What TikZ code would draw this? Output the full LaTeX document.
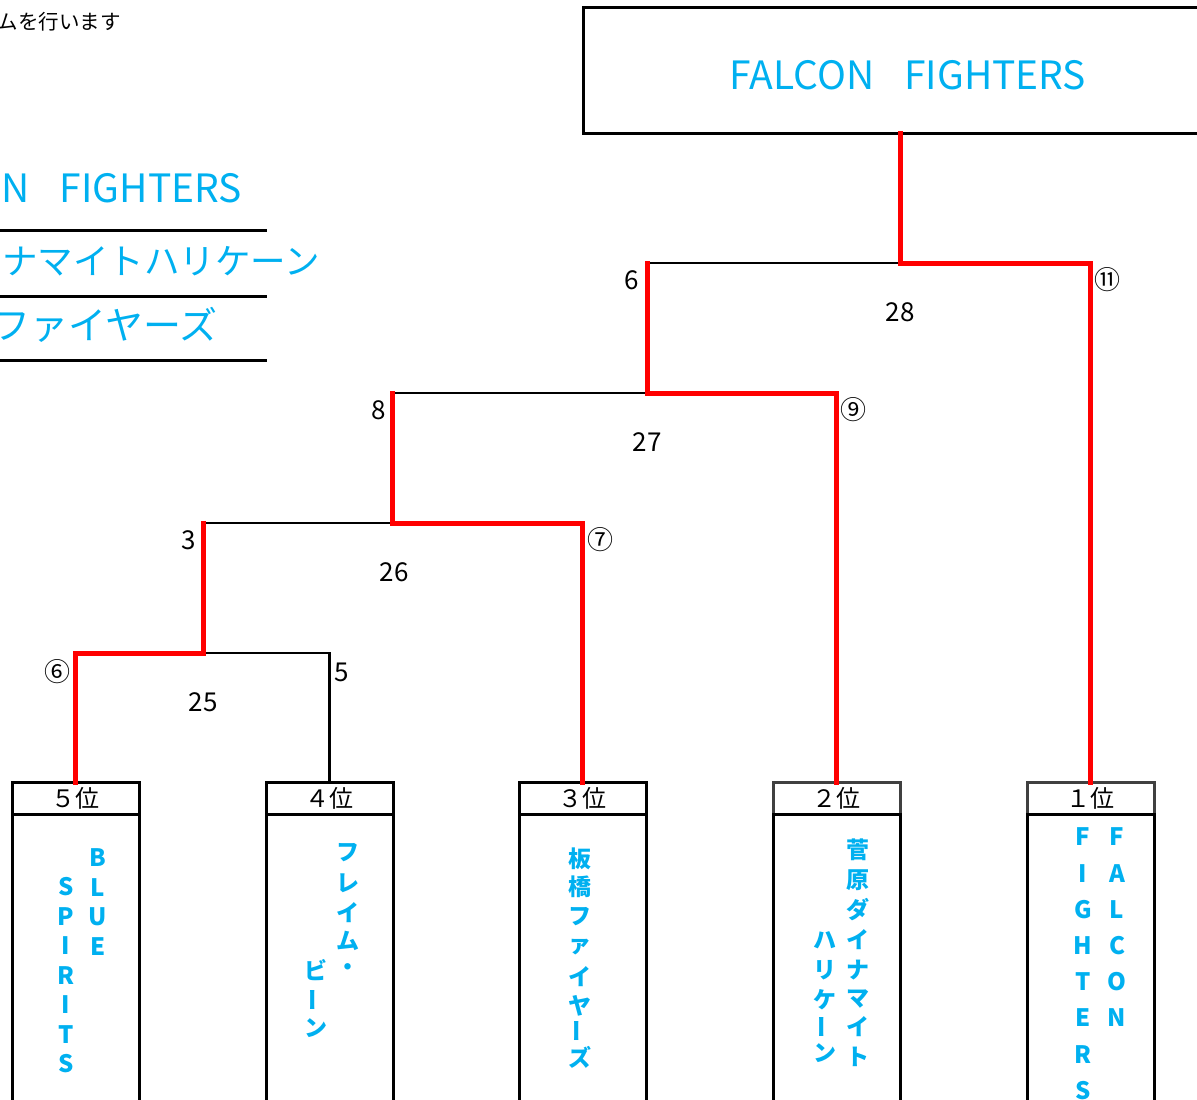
\documentclass[tikz,border=0pt]{standalone}
\usepackage{fontspec}
\setmainfont{Noto Sans CJK JP}
\definecolor{teamcyan}{RGB}{0,176,240}
\definecolor{hdrgray}{RGB}{64,64,64}
\tikzset{
  lose/.style={line width=2.5pt, black},
  win/.style={line width=5pt, red, line cap=rect},
  boxline/.style={draw, line width=3pt, inner sep=0pt, outer sep=0pt},
  hdr/.style={boxline, minimum width=127pt, minimum height=32pt, anchor=north west, font=\fontsize{24}{24}\selectfont},
  body/.style={boxline, minimum width=127pt, minimum height=300pt, anchor=north},
  score/.style={inner sep=0pt, font=\fontsize{26}{26}\selectfont},
  circ/.style={inner sep=0pt, font=\fontsize{26}{26}\selectfont},
  bigteam/.style={inner sep=0pt, text=teamcyan, font=\fontsize{39}{39}\selectfont},
  sideteam/.style={inner sep=0pt, text=teamcyan, font=\fontsize{38}{38}\selectfont},
  vl/.style={inner sep=0pt, text=teamcyan, font=\bfseries\fontsize{24}{24}\selectfont},
  vj/.style={inner sep=0pt, text=teamcyan, font=\bfseries\fontsize{23}{23}\selectfont},
  sideline/.style={line width=3pt},
}
\begin{document}
\begin{tikzpicture}[x=1pt, y=-1pt]
\useasboundingbox (0,0) rectangle (1197,1100);
\clip (0,0) rectangle (1197,1100);

% top-left note
\node[inner sep=0pt, anchor=east, font=\fontsize{20.5}{20.5}\selectfont] (note) at (121,22) {ムを行います};

% left summary
\node[bigteam, anchor=base east] (s1) at (242,202) {FALCON\hspace{30pt}FIGHTERS};
\node[sideteam, anchor=east, font=\fontsize{35.5}{35.5}\selectfont] (s2) at (320,261) {菅原ダイナマイトハリケーン};
\node[sideteam, anchor=east] (s3) at (218,325) {板橋ファイヤーズ};
\coordinate (sl1a) at (0,230); \coordinate (sl1b) at (267,230);
\coordinate (sl2a) at (0,296); \coordinate (sl2b) at (267,296);
\coordinate (sl3a) at (0,360); \coordinate (sl3b) at (267,360);
\draw[sideline] (sl1a) -- (sl1b);
\draw[sideline] (sl2a) -- (sl2b);
\draw[sideline] (sl3a) -- (sl3b);

% champion box
\node[boxline, minimum width=640pt, minimum height=126pt, anchor=north west] (top) at (583,7) {};
\node[bigteam] (champ) at (908,75) {FALCON\hspace{30pt}FIGHTERS};

% headers
\node[hdr] (h1) at (12,782) {５位};
\node[hdr] (h2) at (266,782) {４位};
\node[hdr] (h3) at (519,782) {３位};
\node[hdr, draw=hdrgray] (h4) at (773,782) {２位};
\node[hdr, draw=hdrgray] (h5) at (1027,782) {１位};
\node[body] (b1) at (h1.south) {};
\node[body] (b2) at (h2.south) {};
\node[body] (b3) at (h3.south) {};
\node[body] (b4) at (h4.south) {};
\node[body] (b5) at (h5.south) {};

% bracket junctions
\coordinate (j4) at (900,263);
\coordinate (l4) at (647,263);
\coordinate (j3) at (647,393);
\coordinate (l3) at (392,393);
\coordinate (j2) at (392,523);
\coordinate (l2) at (203,523);
\coordinate (j1) at (203,653);

% losing lines
\draw[lose] (l4) -- (j4);
\draw[lose] (l3) -- (j3);
\draw[lose] (l2) -- (j2);
\draw[lose] (j1) -| (h2.north);

% winning path
\draw[win] (top.south -| j4) -- (j4) -| (h5.north);
\draw[win] (l4) -- (j3) -| (h4.north);
\draw[win] (l3) -- (j2) -| (h3.north);
\draw[win] (l2) -- (j1) -| (h1.north);

% scores
\node[score] (s6) at (632,280) {6};
\node[score] (s28) at (900,312) {28};
\node[circ] (c11) at (1107,280) {⑪};
\node[score] (s8) at (379,410) {8};
\node[score] (s27) at (647,442) {27};
\node[circ] (c9) at (853,410) {⑨};
\node[score] (s3) at (189,540) {3};
\node[score] (s26) at (394,572) {26};
\node[circ] (c7) at (600,540) {⑦};
\node[circ] (c6) at (57,672) {⑥};
\node[score] (s25) at (203,702) {25};
\node[score] (s5) at (342,672) {5};

% box 1: BLUE SPIRITS
\foreach \c [count=\i] in {B,L,U,E}
  \node[vl] (bl\i) at (98,{858+29.5*(\i-1)}) {\c};
\foreach \c [count=\i] in {S,P,I,R,I,T,S}
  \node[vl] (sp\i) at (66,{887+29.5*(\i-1)}) {\c};

% box 2: フレイム・ビーン
\foreach \c/\y [count=\i] in {フ/853,レ/883,イ/913,ム/941,・/970}
  \node[vj] (fl\i) at (348,\y) {\c};
\node[vj] (bi1) at (316,970) {ビ};
\node[vj, rotate=90] (bi2) at (316,1000) {ー};
\node[vj] (bi3) at (316,1028) {ン};

% box 3: 板橋ファイヤーズ
\foreach \c/\y [count=\i] in {板/859,橋/887,フ/917,ァ/947,イ/977,ヤ/1006}
  \node[vj] (it\i) at (580,\y) {\c};
\node[vj, rotate=90] (it7) at (580,1031) {ー};
\node[vj] (it8) at (580,1057) {ズ};

% box 4: 菅原ダイナマイトハリケーン
\foreach \c/\y [count=\i] in {菅/850,原/880,ダ/910,イ/940,ナ/970,マ/999,イ/1027,ト/1057}
  \node[vj] (sg\i) at (858,\y) {\c};
\foreach \c/\y [count=\i] in {ハ/940,リ/970,ケ/1000}
  \node[vj] (hr\i) at (825,\y) {\c};
\node[vj, rotate=90] (hr4) at (825,1027) {ー};
\node[vj] (hr5) at (825,1053) {ン};

% box 5: FALCON FIGHTERS
\foreach \c [count=\i] in {F,A,L,C,O,N}
  \node[vl] (fa\i) at (1117,{837+36.2*(\i-1)}) {\c};
\foreach \c [count=\i] in {F,I,G,H,T,E,R,S}
  \node[vl] (fi\i) at (1083,{837+36.2*(\i-1)}) {\c};
\end{tikzpicture}
\end{document}
